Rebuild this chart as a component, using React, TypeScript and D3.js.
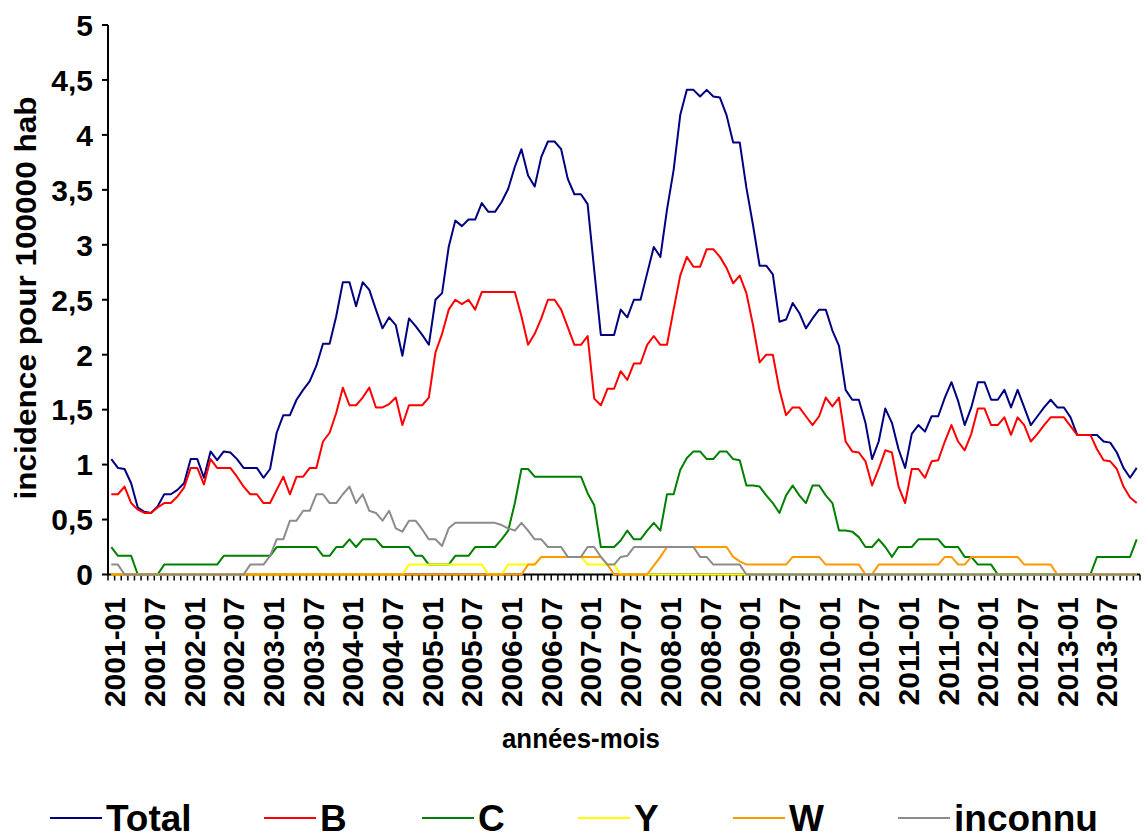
import * as d3 from "d3";

const months = d3.range(156).map(
  (i) => `${2001 + Math.floor(i / 12)}-${String((i % 12) + 1).padStart(2, "0")}`,
);

const total = [
  1.05, 0.97, 0.96, 0.83, 0.61, 0.57, 0.56, 0.62, 0.73, 0.73, 0.77, 0.83,
  1.05, 1.05, 0.88, 1.12, 1.04, 1.12, 1.11, 1.05, 0.97, 0.97, 0.97, 0.88,
  0.96, 1.29, 1.45, 1.45, 1.59, 1.68, 1.76, 1.9, 2.1, 2.1, 2.35, 2.66,
  2.66, 2.44, 2.66, 2.59, 2.41, 2.24, 2.34, 2.27, 1.99, 2.33, 2.26, 2.18,
  2.09, 2.5, 2.56, 2.98, 3.22, 3.17, 3.23, 3.23, 3.38, 3.3, 3.3, 3.39,
  3.51, 3.71, 3.87, 3.63, 3.53, 3.8, 3.94, 3.94, 3.87, 3.6, 3.46, 3.46,
  3.37, 2.77, 2.18, 2.18, 2.18, 2.41, 2.34, 2.5, 2.5, 2.74, 2.98, 2.89,
  3.32, 3.68, 4.18, 4.41, 4.41, 4.35, 4.41, 4.35, 4.34, 4.18, 3.93, 3.93,
  3.52, 3.18, 2.81, 2.81, 2.73, 2.3, 2.32, 2.47, 2.38, 2.24, 2.33, 2.41,
  2.41, 2.22, 2.08, 1.68, 1.59, 1.59, 1.38, 1.05, 1.21, 1.51, 1.38, 1.14,
  0.97, 1.28, 1.36, 1.3, 1.44, 1.44, 1.61, 1.75, 1.58, 1.36, 1.52, 1.75,
  1.75, 1.59, 1.59, 1.68, 1.52, 1.68, 1.52, 1.36, 1.44, 1.52, 1.59, 1.52,
  1.52, 1.43, 1.27, 1.27, 1.27, 1.27, 1.21, 1.2, 1.11, 0.97, 0.88, 0.97,
];

const serB = [
  0.73, 0.73, 0.8, 0.65, 0.59, 0.56, 0.56, 0.61, 0.65, 0.65, 0.71, 0.79,
  0.97, 0.97, 0.82, 1.05, 0.97, 0.97, 0.97, 0.89, 0.8, 0.73, 0.73, 0.65,
  0.65, 0.77, 0.89, 0.73, 0.89, 0.89, 0.97, 0.97, 1.21, 1.29, 1.47, 1.7,
  1.54, 1.54, 1.61, 1.7, 1.52, 1.52, 1.55, 1.61, 1.36, 1.54, 1.54, 1.54,
  1.61, 2.02, 2.19, 2.41, 2.5, 2.46, 2.5, 2.41, 2.57, 2.57, 2.57, 2.57,
  2.57, 2.57, 2.35, 2.09, 2.19, 2.33, 2.5, 2.5, 2.41, 2.25, 2.09, 2.09,
  2.17, 1.6, 1.54, 1.69, 1.69, 1.85, 1.77, 1.92, 1.92, 2.09, 2.17, 2.09,
  2.09, 2.41, 2.72, 2.89, 2.8, 2.8, 2.96, 2.96, 2.89, 2.79, 2.65, 2.72,
  2.56, 2.27, 1.93, 2.0, 2.0, 1.68, 1.45, 1.52, 1.52, 1.44, 1.36, 1.44,
  1.61, 1.53, 1.61, 1.21, 1.12, 1.11, 1.03, 0.81, 0.96, 1.13, 1.11, 0.8,
  0.65, 0.96, 0.96, 0.88, 1.03, 1.04, 1.21, 1.36, 1.21, 1.13, 1.28, 1.51,
  1.51, 1.36, 1.36, 1.43, 1.27, 1.43, 1.36, 1.21, 1.28, 1.36, 1.43, 1.43,
  1.43, 1.35, 1.27, 1.27, 1.27, 1.14, 1.04, 1.03, 0.96, 0.8, 0.7, 0.65,
];

const serC = [
  0.25, 0.17, 0.17, 0.17, 0, 0, 0, 0, 0.09, 0.09, 0.09, 0.09,
  0.09, 0.09, 0.09, 0.09, 0.09, 0.17, 0.17, 0.17, 0.17, 0.17, 0.17, 0.17,
  0.17, 0.25, 0.25, 0.25, 0.25, 0.25, 0.25, 0.25, 0.17, 0.17, 0.25, 0.25,
  0.32, 0.25, 0.32, 0.32, 0.32, 0.25, 0.25, 0.25, 0.25, 0.25, 0.17, 0.17,
  0.09, 0.09, 0.09, 0.09, 0.17, 0.17, 0.17, 0.25, 0.25, 0.25, 0.25, 0.32,
  0.4, 0.65, 0.96, 0.96, 0.89, 0.89, 0.89, 0.89, 0.89, 0.89, 0.89, 0.89,
  0.74, 0.63, 0.25, 0.25, 0.25, 0.31, 0.4, 0.32, 0.32, 0.4, 0.47, 0.4,
  0.73, 0.73, 0.95, 1.06, 1.12, 1.12, 1.05, 1.05, 1.12, 1.12, 1.05, 1.04,
  0.81, 0.81, 0.8, 0.72, 0.65, 0.56, 0.72, 0.81, 0.72, 0.65, 0.81, 0.81,
  0.72, 0.65, 0.4, 0.4, 0.39, 0.34, 0.25, 0.25, 0.32, 0.25, 0.16, 0.25,
  0.25, 0.25, 0.32, 0.32, 0.32, 0.32, 0.25, 0.25, 0.25, 0.16, 0.16, 0.09,
  0.09, 0.09, 0, 0, 0, 0, 0, 0, 0, 0, 0, 0,
  0, 0, 0, 0, 0, 0.16, 0.16, 0.16, 0.16, 0.16, 0.16, 0.32,
];

const serY = [
  0, 0, 0, 0, 0, 0, 0, 0, 0, 0, 0, 0,
  0, 0, 0, 0, 0, 0, 0, 0, 0, 0, 0, 0,
  0, 0, 0, 0, 0, 0, 0, 0, 0, 0, 0, 0,
  0, 0, 0, 0, 0, 0, 0, 0, 0, 0.09, 0.09, 0.09,
  0.09, 0.09, 0.09, 0.09, 0.09, 0.09, 0.09, 0.09, 0.09, 0, 0, 0,
  0.09, 0.09, 0.09, 0.09, 0.09, 0.16, 0.16, 0.16, 0.16, 0.16, 0.16, 0.16,
  0.09, 0.09, 0.09, 0.09, 0.09, 0, 0, 0, 0, 0, 0, 0,
  0, 0, 0, 0, 0, 0, 0, 0, 0, 0, 0, 0,
  0, 0, 0, 0, 0, 0, 0, 0, 0, 0, 0, 0,
  0, 0, 0, 0, 0, 0, 0, 0, 0, 0, 0, 0,
  0, 0, 0, 0, 0, 0, 0, 0, 0, 0, 0, 0,
  0, 0, 0, 0, 0, 0, 0, 0, 0, 0, 0, 0,
  0, 0, 0, 0, 0, 0, 0, 0, 0, 0, 0, 0,
];

const serW = [
  0, 0, 0, 0, 0, 0, 0, 0, 0, 0, 0, 0,
  0, 0, 0, 0, 0, 0, 0, 0, 0, 0, 0, 0,
  0, 0, 0, 0, 0, 0, 0, 0, 0, 0, 0, 0,
  0, 0, 0, 0, 0, 0, 0, 0, 0, 0, 0, 0,
  0, 0, 0, 0, 0, 0, 0, 0, 0, 0, 0, 0,
  0, 0, 0, 0.09, 0.09, 0.16, 0.16, 0.16, 0.16, 0.16, 0.16, 0.16,
  0.16, 0.16, 0.16, 0.09, 0, 0, 0, 0, 0, 0, 0.08, 0.16,
  0.25, 0.25, 0.25, 0.25, 0.25, 0.25, 0.25, 0.25, 0.25, 0.25, 0.16, 0.12,
  0.09, 0.09, 0.09, 0.09, 0.09, 0.09, 0.09, 0.16, 0.16, 0.16, 0.16, 0.16,
  0.09, 0.09, 0.09, 0.09, 0.09, 0.09, 0, 0, 0.09, 0.09, 0.09, 0.09,
  0.09, 0.09, 0.09, 0.09, 0.09, 0.09, 0.16, 0.16, 0.09, 0.09, 0.16, 0.16,
  0.16, 0.16, 0.16, 0.16, 0.16, 0.16, 0.09, 0.09, 0.09, 0.09, 0.09, 0,
  0, 0, 0, 0, 0, 0, 0, 0, 0, 0, 0, 0,
];

const serInconnu = [
  0.09, 0.09, 0, 0, 0, 0, 0, 0, 0, 0, 0, 0,
  0, 0, 0, 0, 0, 0, 0, 0, 0, 0.09, 0.09, 0.09,
  0.17, 0.32, 0.32, 0.49, 0.49, 0.58, 0.58, 0.73, 0.73, 0.65, 0.65, 0.73,
  0.8, 0.65, 0.73, 0.58, 0.56, 0.49, 0.58, 0.42, 0.39, 0.49, 0.49, 0.41,
  0.32, 0.32, 0.26, 0.42, 0.47, 0.47, 0.47, 0.47, 0.47, 0.47, 0.47, 0.45,
  0.42, 0.4, 0.47, 0.4, 0.32, 0.32, 0.25, 0.25, 0.25, 0.16, 0.16, 0.16,
  0.25, 0.25, 0.16, 0.09, 0.09, 0.16, 0.17, 0.25, 0.25, 0.25, 0.25, 0.25,
  0.25, 0.25, 0.25, 0.25, 0.25, 0.16, 0.16, 0.09, 0.09, 0.09, 0.09, 0.09,
  0, 0, 0, 0, 0, 0, 0, 0, 0, 0, 0, 0,
  0, 0, 0, 0, 0, 0, 0, 0, 0, 0, 0, 0,
  0, 0, 0, 0, 0, 0, 0, 0, 0, 0, 0, 0,
  0, 0, 0, 0, 0, 0, 0, 0, 0, 0, 0, 0,
  0, 0, 0, 0, 0, 0, 0, 0, 0, 0, 0, 0,
];

const yTicks = [0, 0.5, 1, 1.5, 2, 2.5, 3, 3.5, 4, 4.5, 5];

const series = [
  { name: "Total", values: total, color: "#000080" },
  { name: "B", values: serB, color: "#ff0000" },
  { name: "C", values: serC, color: "#008000" },
  { name: "Y", values: serY, color: "#ffff00" },
  { name: "W", values: serW, color: "#ff9900" },
  { name: "inconnu", values: serInconnu, color: "#8c8c8c" },
];

// legend x positions
const legendX = [50, 264, 422, 578, 733, 898];

const W = 1144;
const H = 838;
const left = 108;
const right = 1140;
const top = 25;
const bottom = 574.5;
const font = "'Liberation Sans', Arial, sans-serif";

export default function App() {
  const x = d3.scaleBand<string>().domain(months).range([left, right]).padding(0);
  const y = d3.scaleLinear().domain([0, 5]).range([bottom, top]);
  const cx = (m: string) => (x(m) ?? 0) + x.bandwidth() / 2;

  const line = d3
    .line<number>()
    .x((_, i) => cx(months[i]))
    .y((d) => y(d));

  const labelled = months.filter((_, i) => i % 6 === 0);

  return (
    <svg
      width={W}
      height={H}
      style={{ position: "absolute", left: 0, top: 0, background: "#fff" }}
      fontFamily={font}
    >
      {/* y axis */}
      <line x1={left} x2={left} y1={top} y2={bottom} stroke="#000" strokeWidth={2} />
      {yTicks.map((t) => (
        <g key={t}>
          <line x1={left - 6} x2={left} y1={y(t)} y2={y(t)} stroke="#000" strokeWidth={2} />
          <text
            x={93}
            y={y(t)}
            dy="0.36em"
            textAnchor="end"
            fontSize={30}
            fontWeight="bold"
          >
            {String(t).replace(".", ",")}
          </text>
        </g>
      ))}

      {/* x axis with monthly tick marks */}
      <line x1={left} x2={right} y1={bottom} y2={bottom} stroke="#000" strokeWidth={2} />
      {months.map((m) => (
        <line
          key={m}
          x1={x(m)}
          x2={x(m)}
          y1={bottom}
          y2={bottom + 6}
          stroke="#000"
          strokeWidth={1.5}
        />
      ))}
      <line x1={right} x2={right} y1={bottom} y2={bottom + 6} stroke="#000" strokeWidth={1.5} />
      {labelled.map((m) => (
        <text
          key={m}
          transform={`translate(${cx(m) + 3},597) rotate(-90)`}
          dy="0.36em"
          textAnchor="end"
          fontSize={30}
          fontWeight="bold"
        >
          {m}
        </text>
      ))}

      {/* axis titles */}
      <text
        transform="translate(36,298) rotate(-90)"
        textAnchor="middle"
        fontSize={30}
        fontWeight="bold"
        textLength={403}
        lengthAdjust="spacingAndGlyphs"
      >
        incidence pour 100000 hab
      </text>
      <text
        x={581}
        y={748}
        textAnchor="middle"
        fontSize={27}
        fontWeight="bold"
        textLength={158}
        lengthAdjust="spacingAndGlyphs"
      >
        années-mois
      </text>

      {/* series */}
      {series.map((s) => (
        <path
          key={s.name}
          d={line(s.values) ?? ""}
          fill="none"
          stroke={s.color}
          strokeWidth={2}
          strokeLinejoin="round"
        />
      ))}

      {/* legend */}
      {series.map((s, i) => (
        <g key={s.name} transform={`translate(${legendX[i]},818)`}>
          <line x1={0} x2={52} y1={0} y2={0} stroke={s.color} strokeWidth={2} />
          <text x={56} y={13} fontSize={37} fontWeight="bold">
            {s.name}
          </text>
        </g>
      ))}
    </svg>
  );
}
